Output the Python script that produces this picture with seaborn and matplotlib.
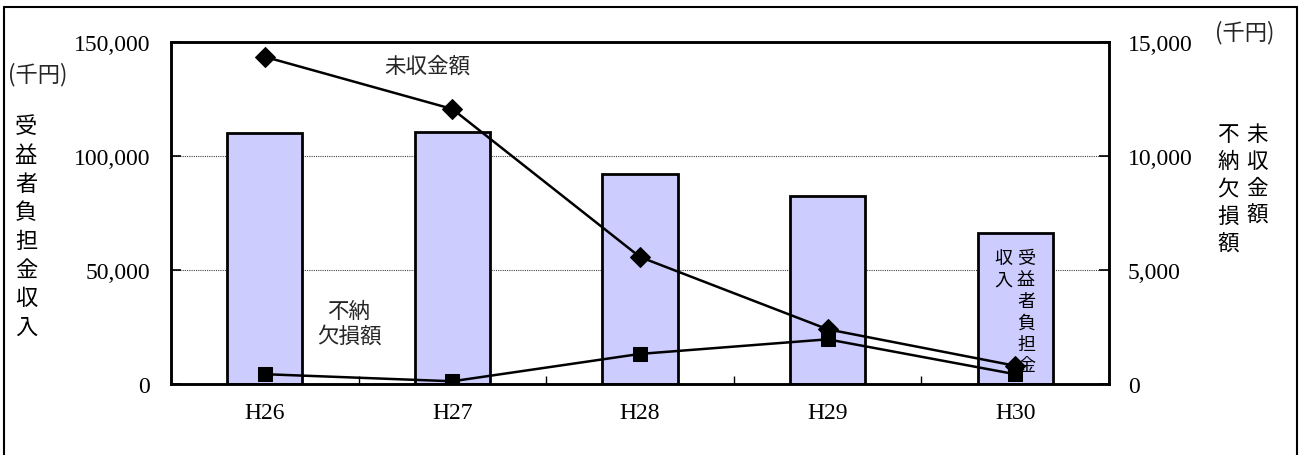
import numpy as np
import pandas as pd
import matplotlib
matplotlib.use("Agg")
import matplotlib.pyplot as plt
import seaborn as sns
from matplotlib.ticker import FuncFormatter, FixedLocator
from matplotlib.lines import Line2D

# 年度と各系列（単位：千円）
years = ["H26", "H27", "H28", "H29", "H30"]
revenue = [110100, 110700, 92100, 82600, 66200]      # 受益者負担金収入（左軸）
uncollected = [14350, 12060, 5570, 2400, 800]       # 未収金額（右軸）
writeoff = [430, 120, 1320, 1960, 430]              # 不納欠損額（右軸）

left_ticks = [0, 50000, 100000, 150000]
right_ticks = [0, 5000, 10000, 15000]

sns.set_theme(style="white")
plt.rcParams["font.family"] = ["Noto Sans CJK JP", "DejaVu Sans"]

W, H = 1299, 456
fig = plt.figure(figsize=(W / 100, H / 100), dpi=100)


def fx(px):
    return px / W


def fy(py):
    return 1 - py / H


ax = fig.add_axes([fx(171), fy(385), (1109 - 171) / W, (385 - 43) / H])

df = pd.DataFrame({"year": years, "revenue": revenue})
sns.barplot(data=df, x="year", y="revenue", color="#CCCCFF", saturation=1,
            edgecolor="black", linewidth=2, width=0.4, ax=ax, zorder=2)

comma = FuncFormatter(lambda v, p: f"{int(v):,}")
tick_font = "Liberation Serif"

ax.set_xlim(-0.5, 4.5)
ax.set_ylim(left_ticks[0], left_ticks[-1])
ax.set_yticks(left_ticks)
ax.yaxis.set_major_formatter(comma)
ax.set_xlabel("")
ax.set_ylabel("")
ax.grid(axis="y", linestyle=(0, (1, 1)), color="#444444", linewidth=0.8)
ax.grid(axis="x", visible=False)
ax.set_axisbelow(True)
ax.xaxis.set_minor_locator(FixedLocator(np.arange(0.5, len(years) - 1, 1)))
ax.tick_params(axis="x", which="major", length=0, pad=13, labelsize=17,
               labelfontfamily=tick_font, colors="black")
ax.tick_params(axis="x", which="minor", direction="in", length=6, width=1,
               bottom=True, color="black")
ax.tick_params(axis="y", direction="in", length=7, width=1.2, pad=15,
               labelsize=17, labelfontfamily=tick_font,
               left=True, colors="black")

# 右軸：未収金額・不納欠損額
ax2 = ax.twinx()
pos = np.arange(len(years))
sns.lineplot(x=pos, y=uncollected, ax=ax2, color="black", linewidth=1.8,
             marker="D", markersize=10, markeredgecolor="black")
sns.lineplot(x=pos, y=writeoff, ax=ax2, color="black", linewidth=1.8,
             marker="s", markersize=10, markeredgecolor="black")
ax2.set_ylim(right_ticks[0], right_ticks[-1])
ax2.set_yticks(right_ticks)
ax2.yaxis.set_major_formatter(comma)
ax2.grid(False)
ax2.set_ylabel("")
ax2.tick_params(axis="y", direction="in", length=7, width=1.2, pad=13.5,
                labelsize=17, labelfontfamily=tick_font,
                right=True, colors="black")

for a in (ax, ax2):
    for s in a.spines.values():
        s.set_color("black")
        s.set_linewidth(1.8)
        s.set_visible(True)


def vtext(chars, xc, y0, step, size):
    for i, c in enumerate(chars):
        fig.text(fx(xc), fy(y0 + i * step), c, ha="center", va="center",
                 fontsize=size, color="black")


# 軸の単位と系列名
fig.text(fx(8), fy(75), "(千円)", ha="left", va="center", fontsize=16)
fig.text(fx(1215), fy(33), "(千円)", ha="left", va="center", fontsize=16)
vtext("受益者負担金収入", 26, 127, 28.6, 16)
vtext("未収金額", 1257, 135, 27, 15.5)
vtext("不納欠損額", 1228, 135, 27.3, 15.5)
fig.text(fx(427), fy(67), "未収金額", ha="center", va="center", fontsize=15.5)
fig.text(fx(349), fy(324), "不納\n欠損額", ha="center", va="center",
         fontsize=15.5, linespacing=1.15)
vtext("受益者負担金", 1026, 259, 21.4, 13)
vtext("収入", 1003, 259, 21.4, 13)

# 外枠
frame = dict(color="black", linewidth=1.5)
fig.add_artist(Line2D([fx(4), fx(4)], [0, fy(8)], **frame))
fig.add_artist(Line2D([fx(4), fx(1297)], [fy(8), fy(8)], **frame))
fig.add_artist(Line2D([fx(1297), fx(1297)], [fy(8), 0], **frame))

fig.savefig("out.png", dpi=100)
